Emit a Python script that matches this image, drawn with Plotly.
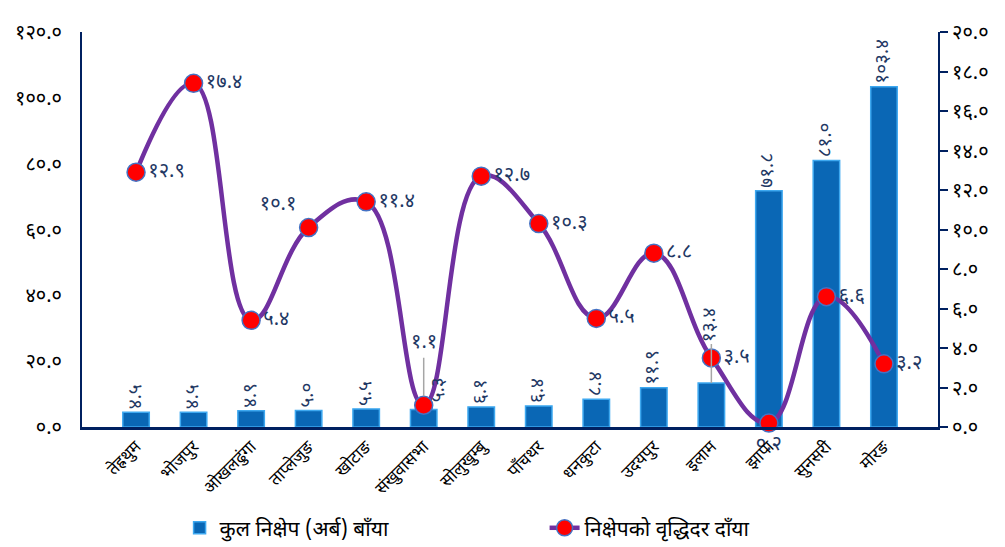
import plotly.graph_objects as go

districts = ["तेह्रथुम", "भोजपुर", "ओखलढुंगा", "ताप्लेजुङ", "खोटाङ", "संखुवासभा", "सोलुखुम्बु",
             "पाँचथर", "धनकुटा", "उदयपुर", "इलाम", "झापा", "सुनसरी", "मोरङ"]
deposits = [4.5, 4.5, 4.9, 5.0, 5.5, 5.3, 6.1, 6.4, 8.4, 11.9, 13.4, 71.8, 81.0, 103.4]
deposit_labels = ["४.५", "४.५", "४.९", "५.०", "५.५", "५.३", "६.१", "६.४", "८.४", "११.९",
                  "१३.४", "७१.८", "८१.०", "१०३.४"]
growth = [12.9, 17.4, 5.4, 10.1, 11.4, 1.1, 12.7, 10.3, 5.5, 8.8, 3.5, 0.2, 6.6, 3.2]
growth_labels = ["१२.९", "१७.४", "५.४", "१०.१", "११.४", "१.१", "१२.७", "१०.३", "५.५", "८.८",
                 "३.५", "०.२", "६.६", "३.२"]
growth_pos = ["middle right", "middle right", "middle right", "top left", "middle right",
              "top center", "middle right", "middle right", "middle right", "middle right",
              "middle right", "bottom center", "middle right", "middle right"]

left_ticks = [0, 20, 40, 60, 80, 100, 120]
left_tick_text = ["०.०", "२०.०", "४०.०", "६०.०", "८०.०", "१००.०", "१२०.०"]
right_ticks = [0, 2, 4, 6, 8, 10, 12, 14, 16, 18, 20]
right_tick_text = ["०.०", "२.०", "४.०", "६.०", "८.०", "१०.०", "१२.०", "१४.०", "१६.०", "१८.०", "२०.०"]

bar_name = "कुल निक्षेप (अर्ब) बाँया"
line_name = "निक्षेपको वृद्धिदर दाँया"

FONT = "Noto Sans Devanagari, Noto Sans, Lohit Devanagari, sans-serif"
NAVY = "#002060"
LABEL = "#1F3864"

# labels moved off their default spot (drawn as annotations below)
moved_bar = {5, 10}
moved_line = {5}
bar_text = ["" if i in moved_bar else t for i, t in enumerate(deposit_labels)]
line_text = ["" if i in moved_line else t for i, t in enumerate(growth_labels)]

fig = go.Figure()
fig.add_trace(go.Bar(
    x=districts, y=deposits, name=bar_name,
    marker=dict(color="#0A67B5", line=dict(color="#3DA8F0", width=1.5)),
    width=0.46,
    text=bar_text, textposition="outside", textangle=-90,
    textfont=dict(size=19, color=LABEL, family=FONT),
    constraintext="none", cliponaxis=False,
))
fig.add_trace(go.Scatter(
    x=districts, y=growth, name=line_name, yaxis="y2",
    mode="lines+markers+text",
    line=dict(color="#7030A0", width=4.5, shape="spline", smoothing=1.2),
    marker=dict(color="#FF0000", size=18, line=dict(color="#4472C4", width=1.5)),
    text=line_text, textposition=growth_pos,
    textfont=dict(size=20, color=LABEL, family=FONT),
    cliponaxis=False,
))

lab_font = dict(size=19, color=LABEL, family=FONT)
annotations = [
    dict(x=districts[5], y=growth[5], xref="x", yref="y2", text=growth_labels[5],
         showarrow=True, arrowhead=0, arrowcolor="#A6A6A6", arrowwidth=1.5,
         ax=0, ay=-62, standoff=9, font=dict(size=20, color=LABEL, family=FONT)),
    dict(x=districts[10], y=deposits[10], xref="x", yref="y", text=deposit_labels[10],
         textangle=-90, showarrow=True, arrowhead=0, arrowcolor="#A6A6A6", arrowwidth=1.5,
         ax=0, ay=-58, standoff=0, font=lab_font),
    dict(x=districts[5], y=deposits[5], xref="x", yref="y", text=deposit_labels[5],
         textangle=-90, showarrow=False, xshift=16, yshift=20, font=lab_font),
]

# the page body adds an 8px offset, so the figure is 8px smaller and shifted
fig.update_layout(
    width=997, height=539,
    margin=dict(l=74, r=67, t=24, b=120, autoexpand=False),
    paper_bgcolor="white", plot_bgcolor="white",
    font=dict(family=FONT, size=14, color="black"),
    bargap=0.5,
    annotations=annotations,
    xaxis=dict(
        type="category", tickangle=-45, showgrid=False, automargin=False,
        showline=True, linecolor=NAVY, linewidth=3,
        tickfont=dict(size=17, color="black", family=FONT),
        ticks="",
    ),
    yaxis=dict(
        range=[0, 120], tickvals=left_ticks, ticktext=left_tick_text, automargin=False,
        showgrid=False, zeroline=False, showline=True, linecolor=NAVY, linewidth=2,
        ticks="", ticklen=0, ticklabelstandoff=14,
        tickfont=dict(size=20, color="black", family=FONT),
    ),
    yaxis2=dict(
        range=[0, 20], tickvals=right_ticks, ticktext=right_tick_text, automargin=False,
        overlaying="y", side="right", showgrid=False, zeroline=False,
        showline=True, linecolor=NAVY, linewidth=2,
        ticks="outside", ticklen=8, tickwidth=2, tickcolor=NAVY,
        tickfont=dict(size=20, color="black", family=FONT),
    ),
    legend=dict(
        orientation="h", x=0.114, xanchor="left",
        yref="container", y=0.035, yanchor="middle",
        entrywidth=320, entrywidthmode="pixels",
        font=dict(size=21, color="black", family=FONT),
    ),
    showlegend=True,
)

fig.write_html("out.html")
